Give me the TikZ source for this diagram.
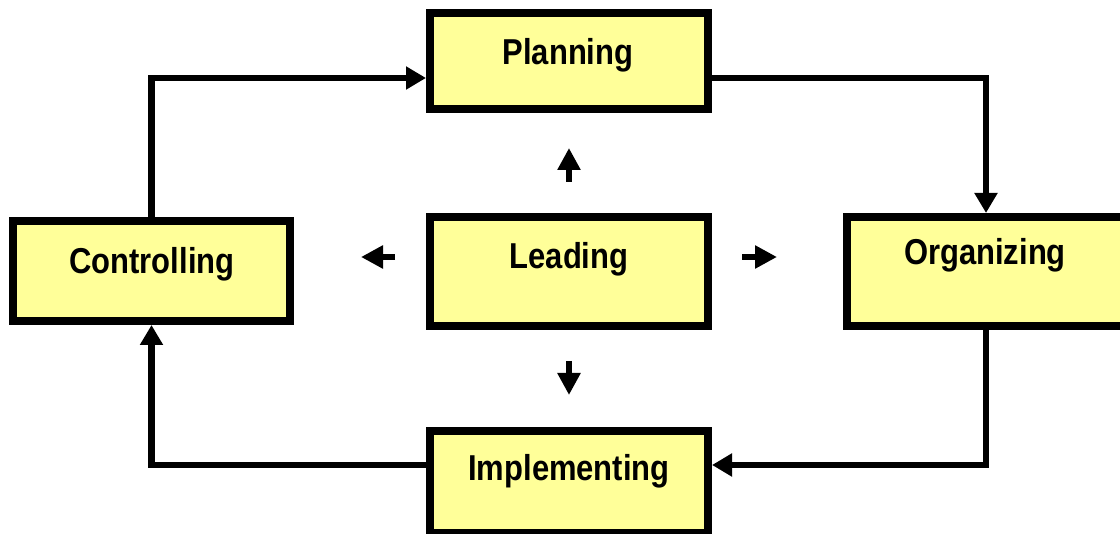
\documentclass[tikz,border=0pt]{standalone}
\usepackage{fontspec}
\setmainfont{Liberation Sans}
\usetikzlibrary{arrows.meta}
\definecolor{boxfill}{HTML}{FFFF99}
\tikzset{
  box/.style={draw=black, fill=boxfill, line width=8pt, minimum width=278pt, inner sep=0pt},
  lbl/.style={anchor=base, inner sep=0pt, font=\bfseries\fontsize{36}{40}\selectfont},
  conn/.style={line width=6.5pt, -{Triangle[length=20pt,width=22pt]}},
  small/.style={line width=6pt, -{Triangle[length=22pt,width=22pt]}}
}
\newcommand{\sq}[1]{\scalebox{0.86}[1]{#1}}
\begin{document}
\begin{tikzpicture}[x=1pt,y=-1pt]
\useasboundingbox (0,0) rectangle (1120,534);
\clip (0,0) rectangle (1120,534);
% boxes
\node[box, minimum height=96pt]  (plan) at (569,61.5) {};
\node[box, minimum height=109pt] (lead) at (569,271.5) {};
\node[box, minimum width=277pt, minimum height=100pt] (ctrl) at (151.5,271) {};
\node[box, minimum height=109pt] (org)  at (986,271.5) {};
\node[box, minimum height=102pt] (impl) at (569,482) {};
% labels
\node[lbl] (planT) at (568,65)  {\sq{Planning}};
\node[lbl] (leadT) at (569,269) {\sq{Leading}};
\node[lbl] (ctrlT) at (152,274) {\sq{Controlling}};
\node[lbl] (orgT)  at (985,265) {\sq{Organizing}};
\node[lbl] (implT) at (569,481) {\sq{Implementing}};
% cycle connectors
\draw[conn] (ctrl.north) |- ([yshift=-16.5pt]plan.west);
\draw[conn] ([yshift=-16.5pt]plan.east) -| (org.north);
\draw[conn] (org.south) |- ([yshift=17pt]impl.east);
\draw[conn] ([yshift=17pt]impl.west) -| (ctrl.south);
% small arrows around Leading
\draw[small] ([yshift=31pt]lead.north) -- ([yshift=65pt]lead.north);
\draw[small] ([yshift=-31pt]lead.south) -- ([yshift=-65pt]lead.south);
\draw[small] ([xshift=-31pt,yshift=14.5pt]lead.west) -- ([xshift=-65pt,yshift=14.5pt]lead.west);
\draw[small] ([xshift=30pt,yshift=14.5pt]lead.east) -- ([xshift=65pt,yshift=14.5pt]lead.east);
\end{tikzpicture}
\end{document}
